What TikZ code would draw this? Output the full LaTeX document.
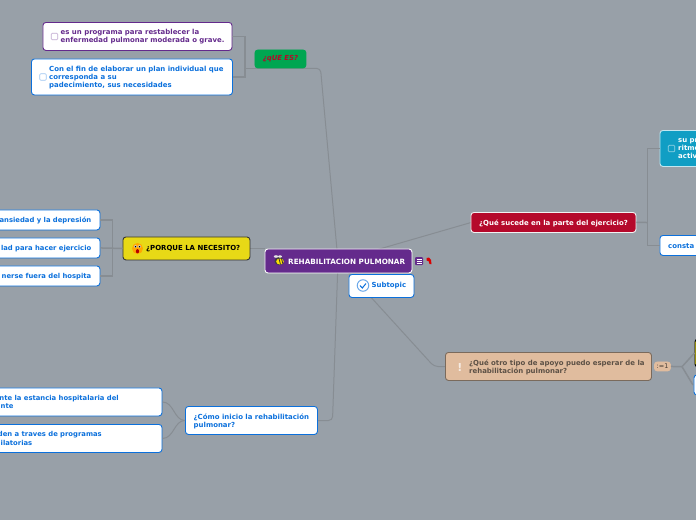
\documentclass[tikz,border=0pt]{standalone}
\usepackage{fontspec}
\setmainfont{DejaVu Sans}
\definecolor{bgc}{HTML}{98A0A8}
\definecolor{linec}{HTML}{878D93}
\definecolor{purp}{HTML}{642A8C}
\definecolor{bluec}{HTML}{0B70DC}
\definecolor{greenc}{HTML}{00A651}
\definecolor{redc}{HTML}{B5092B}
\definecolor{yel}{HTML}{E8D916}
\definecolor{tealc}{HTML}{109EC4}
\definecolor{tanc}{HTML}{E0BC9E}
\definecolor{tanl}{HTML}{7A6A5C}
\tikzset{
 x=1pt,y=-1pt,
 conn/.style={draw=linec,line width=1pt,rounded corners=4pt},
 connthick/.style={draw=linec,line width=1.5pt},
 box/.style={rounded corners=3pt,line width=.9pt,inner sep=0pt,anchor=north west,xshift=-.5pt,yshift=.5pt},
 lbl/.style={font=\bfseries\fontsize{6.95}{8}\selectfont,anchor=west,align=left,inner sep=0pt,yshift=-.5pt},
 cut/.style={lbl,font=\bfseries\fontsize{6.82}{8}\selectfont,text=bluec,anchor=east},
 chk/.style={rounded corners=1pt,line width=.7pt,minimum size=6.5pt,inner sep=0pt,fill=white},
}
\newcommand{\boxat}[6]{\node[box,minimum width=#3pt,minimum height=#4pt,draw=#5,fill=#6] (#1) at (#2) {};}
\begin{document}
\begin{tikzpicture}
\useasboundingbox[fill=bgc] (0,0) rectangle (696,520);
\coordinate (hub) at (338,261);
\coordinate (hubq) at (245,68.3);
\coordinate (hubp) at (112.5,248.5);
\coordinate (hube) at (647.5,222.5);
\coordinate (hubo) at (682,366.7);
\coordinate (qel) at (320.5,68.3);
\coordinate (cel) at (332.5,420.5);
\coordinate (oel) at (434,366.5);
% connectors first, boxes above them
\draw[connthick] (hubq) -- (255,68.3);
\draw[conn] (255,68.3) -- (qel) -- (hub);
\draw[conn] (250,248.5) -- (265,248.5);
\draw[conn] (471,222.5) -- (hub);
\draw[conn] (445.5,366.5) -- (oel) -- (hub);
\draw[conn] (317.5,420.5) -- (cel) -- (hub);
\boxat{q1}{43,22.5}{189}{28}{purp}{white}
\boxat{q2}{31.5,59}{201}{36}{bluec}{white}
\draw[connthick] (q1.east) -| (hubq |- q2.east) -- (q2.east);
\boxat{que}{255,50}{51}{18}{greenc}{greenc}
\boxat{por}{123,237}{127}{23}{black!80}{yel}
\boxat{p1}{-20,210}{120}{20}{bluec}{white}
\boxat{p2}{-20,238}{120}{20}{bluec}{white}
\boxat{p3}{-20,266}{120}{20}{bluec}{white}
\draw[connthick] (p1.east) -| (hubp |- p3.east) -- (p3.east);
\draw[connthick] (p2.east) -- (por.west);
\boxat{c1}{-20,388}{182}{28}{bluec}{white}
\boxat{c2}{-20,424.5}{182}{28}{bluec}{white}
\boxat{com}{185.5,406.5}{132}{28}{bluec}{white}
\draw[draw=linec,line width=1pt] (com.west) .. controls (174,420.5) and (174,402) .. (c1.east);
\draw[draw=linec,line width=1pt] (com.west) .. controls (174,420.5) and (174,438.5) .. (c2.east);
\boxat{eje}{471,212.5}{165}{20}{white!90!gray}{redc}
\boxat{e1}{660,130.5}{60}{36}{white!75!tealc}{tealc}
\boxat{e2}{660,235.5}{60}{20}{bluec}{white}
\draw[connthick] (eje.east) -- (hube);
\draw[connthick] (e1.west) -| (hube |- e2.west) -- (e2.west);
\boxat{o1}{695,339}{20}{28}{black}{yel}
\boxat{o2}{694,375}{20}{20}{bluec}{white}
\boxat{otr}{445.5,352.5}{206}{28}{tanl}{tanc}
\boxat{tag}{654.5,362}{16}{9}{tanc}{tanc}
\draw[connthick] (tag.east) -- (hubo);
\draw[connthick] (hubo) -- (o1.west);
\draw[connthick] (hubo) -- (693,385);
\boxat{root}{265,249}{147}{24}{white}{purp}
\boxat{sub}{349,274.5}{65}{23}{bluec}{white}
% root
\node[lbl,text=white,font=\bfseries\fontsize{7.25}{8}\selectfont] (troot) at (288,261) {REHABILITACION PULMONAR};
\fill[black!75] (279,261) ellipse (4.5pt and 4pt);
\fill[yellow!80!orange] (280,261.5) ellipse (3.8pt and 3pt);
\draw[black!80,line width=.8pt] (279,258.5) -- (280.5,264.5) (281.5,258.5) -- (283,264);
\fill[white!80!gray] (276,256.5) ellipse (2.2pt and 1.3pt) (280,256.5) ellipse (2pt and 1.2pt);
% subtopic
\node[lbl,text=bluec] (tsub) at (371.5,285.5) {Subtopic};
\node[circle,draw=bluec!60,line width=1pt,minimum size=11.5pt,inner sep=0pt,fill=white] (cka) at (363,285.5) {};
\draw[bluec,line width=1pt] (360,285.5) -- (362.3,288) -- (366,283.5);
% que es
\node[lbl,text=redc,font=\bfseries\itshape\fontsize{6.9}{8}\selectfont,anchor=center] (tque) at (280.5,58.5) {¿qUE ES?};
\node[chk,draw=purp!40] (k1) at (54.5,36.5) {};
\node[lbl,text=purp] (tq1) at (60.5,36.5) {es un programa para restablecer la\\enfermedad pulmonar moderada o grave.};
\node[chk,draw=bluec!40] (k2) at (43,77) {};
\node[lbl,text=bluec] (tq2) at (49,77) {Con el fin de elaborar un plan individual que\\corresponda a su\\padecimiento, sus necesidades};
% porque
\fill[orange!70!yellow] (137.5,248.5) circle (5.5pt);
\fill[white] (135.5,246.5) circle (1.7pt) (139.5,246.5) circle (1.7pt);
\fill[black] (135.5,246.5) circle (1pt) (139.5,246.5) circle (1pt);
\fill[red!70!black] (137.5,251.2) ellipse (1.6pt and 2.1pt);
\node[lbl,text=black] (tpor) at (146,248.5) {¿PORQUE LA NECESITO?};
\node[cut] (tp1) at (91.5,220) {ansiedad y la depresión};
\node[cut] (tp2) at (91.5,248) {lad para hacer ejercicio};
\node[cut] (tp3) at (91.5,276) {nerse fuera del hospita};
% como
\node[lbl,text=bluec] (tcom) at (193.5,420.5) {¿Cómo inicio la rehabilitación\\pulmonar?};
\node[cut] (tc1) at (119,398) {nte la estancia hospitalaria del};
\node[cut,anchor=west] (tc1b) at (0.5,406) {nte};
\node[cut] (tc2) at (102,434.5) {den a traves de programas};
\node[cut,anchor=west] (tc2b) at (0.5,442.5) {ilatorias};
% ejercicio
\node[lbl,text=white] (teje) at (479,222.5) {¿Qué sucede en la parte del ejercicio?};
\node[chk,fill=none,draw=white!55!tealc] (k3) at (671.5,148.5) {};
\node[lbl,text=white] (te1) at (678,148.5) {su pr\\ritmo\\activ};
\node[lbl,text=bluec] (te2) at (668,245.5) {consta};
% otro
\node[lbl,text=tanl!75!black] (totr) at (469,366.5) {¿Qué otro tipo de apoyo puedo esperar de la\\rehabilitación pulmonar?};
\node[font=\bfseries\fontsize{11}{11}\selectfont,text=white!70!tanc,inner sep=0pt] (ex) at (460,367) {!};
\node[font=\fontsize{6.5}{6.5}\selectfont,text=tanl!60!black,inner sep=0pt] (ttag) at (662.5,366.5) {:=1};
% note icons
\node[rounded corners=1pt,fill=purp,minimum size=8pt,inner sep=0pt] (nt) at (419,261) {};
\draw[white,line width=.5pt] (416.5,259) -- (421.5,259) (416.5,261) -- (421.5,261) (416.5,263) -- (421.5,263);
\fill[red!85!black] (426.5,258) -- (429,257.5) -- (431,260) -- (431.5,264) -- (429.5,264) -- (428.5,261) -- (426.5,260.5) -- cycle;
\end{tikzpicture}
\end{document}
